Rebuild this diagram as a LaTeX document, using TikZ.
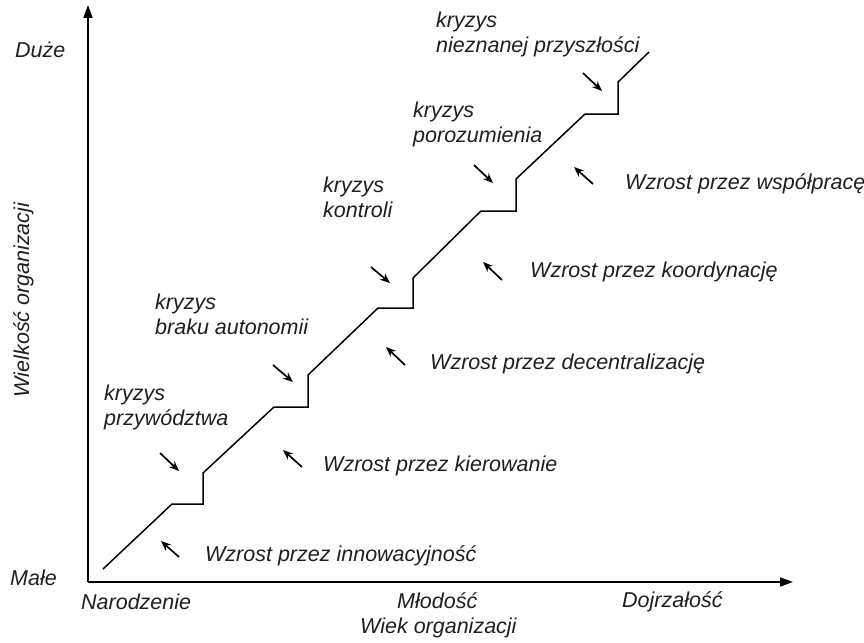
\documentclass[tikz,border=0pt]{standalone}
\usepackage{fontspec}
\setmainfont{Liberation Sans}
\usetikzlibrary{arrows.meta}
\begin{document}
\begin{tikzpicture}[x=1pt,y=-1pt,
  lbl/.style={font=\fontsize{21.5}{24.5}\selectfont\itshape, inner sep=0pt, text=black!88},
  two/.style={lbl, align=left, anchor=north west},
  one/.style={lbl, anchor=base west},
  axis/.style={line width=1.8pt, -{Triangle[length=13pt,width=9pt]}},
  stair/.style={line width=1.5pt, line join=miter},
  hint/.style={line width=1.7pt, -{Stealth[length=10pt,width=8pt]}}]
\useasboundingbox (0,0) rectangle (864,642);

% axes
\coordinate (O) at (88,582);
\coordinate (ytop) at (88,5);
\coordinate (xend) at (793,582);
\draw[axis] (O) -- (ytop);
\draw[axis] (O) -- (xend);

% axis labels
\node[one] (duze) at (15,57) {Duże};
\node[one] (male) at (10,585) {Małe};
\node[one] (narodz) at (81,609) {Narodzenie};
\node[one] (mlodosc) at (397,608) {Młodość};
\node[one] (dojrz) at (622,607) {Dojrzałość};
\node[one] (wiek) at (360,633) {Wiek organizacji};
\node[lbl, rotate=90, anchor=base] (wielkosc) at (29,300) {Wielkość organizacji};

% staircase of growth
\coordinate (s0) at (103,569);
\coordinate (s1) at (172,504);
\coordinate (s2) at (203,504);
\coordinate (s3) at (203,473);
\coordinate (s4) at (274,407);
\coordinate (s5) at (308,407);
\coordinate (s6) at (308,375);
\coordinate (s7) at (378,308);
\coordinate (s8) at (413,308);
\coordinate (s9) at (413,278);
\coordinate (s10) at (481,211);
\coordinate (s11) at (516,211);
\coordinate (s12) at (516,179);
\coordinate (s13) at (585,114);
\coordinate (s14) at (618,114);
\coordinate (s15) at (618,82);
\coordinate (s16) at (649,52);
\draw[stair] (s0) -- (s1) -- (s2) -- (s3) -- (s4) -- (s5) -- (s6) -- (s7)
  -- (s8) -- (s9) -- (s10) -- (s11) -- (s12) -- (s13) -- (s14) -- (s15) -- (s16);

% crisis labels and arrows
\node[two] (k1) at (104,385) {kryzys\\przywództwa};
\node[two] (k2) at (155,294) {kryzys\\braku autonomii};
\node[two] (k3) at (323,177) {kryzys\\kontroli};
\node[two] (k4) at (413,102) {kryzys\\porozumienia};
\node[two] (k5) at (436,12) {kryzys\\nieznanej przyszłości};

\coordinate (c1a) at (160,453); \coordinate (c1b) at (179,471);
\coordinate (c2a) at (273,365); \coordinate (c2b) at (293,382);
\coordinate (c3a) at (371,267); \coordinate (c3b) at (390,283);
\coordinate (c4a) at (474,165); \coordinate (c4b) at (493,183);
\coordinate (c5a) at (583,73);  \coordinate (c5b) at (602,91);
\draw[hint] (c1a) -- (c1b);
\draw[hint] (c2a) -- (c2b);
\draw[hint] (c3a) -- (c3b);
\draw[hint] (c4a) -- (c4b);
\draw[hint] (c5a) -- (c5b);

% growth labels and arrows
\node[one] (w1) at (205,561) {Wzrost przez innowacyjność};
\node[one] (w2) at (323,471) {Wzrost przez kierowanie};
\node[one] (w3) at (430,369) {Wzrost przez decentralizację};
\node[one] (w4) at (530,277) {Wzrost przez koordynację};
\node[one] (w5) at (625,189) {Wzrost przez współpracę};

\coordinate (g1a) at (179,557); \coordinate (g1b) at (161,541);
\coordinate (g2a) at (302,467); \coordinate (g2b) at (283,450);
\coordinate (g3a) at (405,365); \coordinate (g3b) at (386,347);
\coordinate (g4a) at (502,280); \coordinate (g4b) at (483,262);
\coordinate (g5a) at (593,184); \coordinate (g5b) at (574,167);
\draw[hint] (g1a) -- (g1b);
\draw[hint] (g2a) -- (g2b);
\draw[hint] (g3a) -- (g3b);
\draw[hint] (g4a) -- (g4b);
\draw[hint] (g5a) -- (g5b);
\end{tikzpicture}
\end{document}
